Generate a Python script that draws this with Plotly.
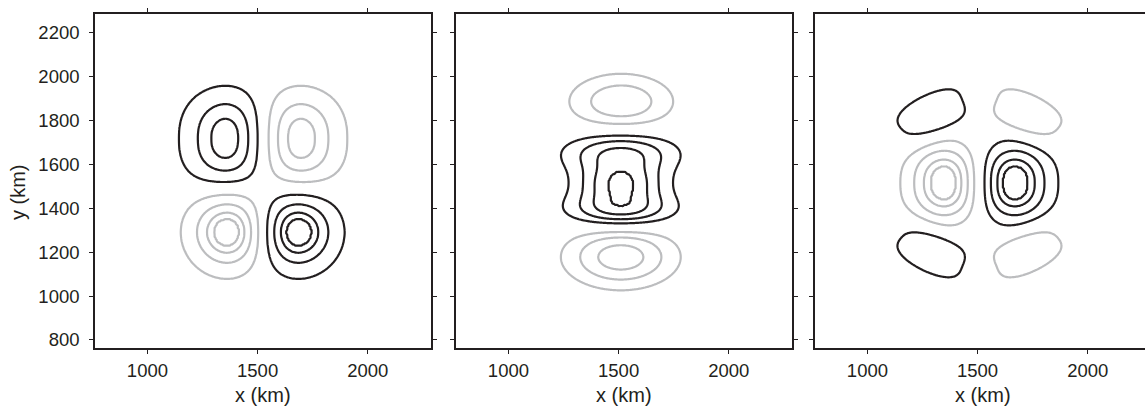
import numpy as np
import plotly.graph_objects as go

# ---------------- data ----------------
x_range = [762, 2287]
x_range_last = [762, 2260]          # third panel is cut at the right edge
y_range = [762, 2285]
x_ticks = [1000, 1500, 2000]
y_ticks = [800, 1000, 1200, 1400, 1600, 1800, 2000, 2200]

# Each panel: lobes given by centre x, centre y, amplitude, width along, width across,
# tilt (degrees) and edge sharpness of the across-profile (2 = Gaussian)
p1_cx = [1365, 1685, 1371, 1675]
p1_cy = [1715, 1715, 1292, 1292]
p1_amp = [0.84, -0.84, -1.0, 1.0]
p1_sx = [128, 128, 120, 120]
p1_sy = [155, 155, 118, 118]
p1_ang = [0, 0, 0, 0]
p1_q = [2.4, 2.4, 2.0, 2.0]
p1_levels = [0.185, 0.475, 0.70, 0.83]

p2_cx = [1510, 1510, 1510, 1512, 1510]
p2_cy = [1515, 1650, 1395, 1885, 1178]
p2_amp = [0.70, 0.65, 0.70, -0.57, -0.72]
p2_sx = [130, 175, 165, 163, 170]
p2_sy = [61, 68, 59, 88, 95]
p2_ang = [0, 0, 0, 0, 0]
p2_q = [2.0, 2.0, 2.0, 2.0, 2.0]
p2_levels = [0.2, 0.4, 0.6, 0.8]

p3_cx = [1358, 1658, 1297, 1720, 1297, 1720]
p3_cy = [1515, 1515, 1830, 1830, 1197, 1197]
p3_amp = [-0.94, 0.94, 0.43, -0.43, 0.43, -0.43]
p3_sx = [120, 120, 140, 140, 140, 140]
p3_sy = [128, 128, 80, 80, 80, 80]
p3_ang = [0, 0, 25, -25, -25, 25]
p3_q = [2.4, 2.4, 3.0, 3.0, 3.0, 3.0]
p3_levels = [0.207, 0.45, 0.656, 0.78]

x_title = "x (km)"
y_title = "y (km)"

# ---------------- styling ----------------
BLACK = "#231f20"
GRAY = "#bcbdbf"
FONT = "Liberation Sans"
TICK_SIZE = 18.5
TITLE_SIZE = 20
W, H = 1145, 407

grid_x = np.arange(950, 2101, 5.0)
grid_y = np.arange(950, 2101, 5.0)
GX, GY = np.meshgrid(grid_x, grid_y)


def build_field(cx, cy, amp, su, sv, ang, q):
    z = np.zeros_like(GX)
    for a, b, c, s1, s2, th, qq in zip(cx, cy, amp, su, sv, ang, q):
        t = np.radians(th)
        dx, dy = GX - a, GY - b
        u = dx * np.cos(t) + dy * np.sin(t)
        v = -dx * np.sin(t) + dy * np.cos(t)
        z += c * np.exp(-0.5 * ((u / s1) ** 2 + np.abs(v / s2) ** qq))
    return z


def level_index(z, levels):
    # monotone map so that the listed levels fall on 1, 2, 3, 4
    xp = [0.0] + list(levels) + [10.0]
    fp = list(range(len(levels) + 1)) + [len(levels) + 1]
    return np.round(np.sign(z) * np.interp(np.abs(z), xp, fp), 3)


panels = [
    (p1_cx, p1_cy, p1_amp, p1_sx, p1_sy, p1_ang, p1_q, p1_levels),
    (p2_cx, p2_cy, p2_amp, p2_sx, p2_sy, p2_ang, p2_q, p2_levels),
    (p3_cx, p3_cy, p3_amp, p3_sx, p3_sy, p3_ang, p3_q, p3_levels),
]

fig = go.Figure()
for i, (cx, cy, amp, sx, sy, ang, q, lev) in enumerate(panels):
    zt = level_index(build_field(cx, cy, amp, sx, sy, ang, q), lev)
    n = len(lev)
    xa = "x" if i == 0 else f"x{i + 1}"
    ya = "y" if i == 0 else f"y{i + 1}"
    for sign, color in ((1, BLACK), (-1, GRAY)):
        start, end = (1, n) if sign > 0 else (-n, -1)
        fig.add_trace(go.Contour(
            x=grid_x, y=grid_y, z=zt, xaxis=xa, yaxis=ya,
            contours=dict(start=start, end=end, size=1, coloring="none"),
            line=dict(color=color, width=2.2, smoothing=1),
            showscale=False, hoverinfo="skip",
        ))

# panel positions in pixels
px_left = [95, 456, 815]
px_width = 336
plot_top, plot_bottom = 14, 350
ydom = [(H - plot_bottom) / H, (H - plot_top) / H]

axis_common = dict(
    showline=True, linecolor=BLACK, linewidth=1.6,
    ticks="outside", ticklen=4, tickwidth=1, tickcolor=BLACK,
    showgrid=False, zeroline=False, fixedrange=True,
    tickfont=dict(family=FONT, size=TICK_SIZE, color=BLACK),
)

layout = dict(
    width=W, height=H, autosize=False,
    margin=dict(l=0, r=0, t=0, b=0),
    paper_bgcolor="white", plot_bgcolor="white",
    showlegend=False,
    font=dict(family=FONT, size=TICK_SIZE, color=BLACK),
)

annotations = []
for i in range(3):
    x0 = px_left[i] / W
    x1 = min((px_left[i] + px_width) / W, 1.0)
    suffix = "" if i == 0 else str(i + 1)
    xr = x_range_last if i == 2 else x_range
    layout["xaxis" + suffix] = dict(
        axis_common, domain=[x0, x1], range=xr, tickvals=x_ticks,
        anchor="y" + suffix, mirror="allticks", ticklabelstandoff=1,
    )
    layout["yaxis" + suffix] = dict(
        axis_common, domain=ydom, range=y_range, tickvals=y_ticks,
        anchor="x" + suffix, mirror=("allticks" if i < 2 else False),
        showticklabels=(i == 0), ticklabelstandoff=6,
    )
    annotations.append(dict(
        text=x_title, xref="paper", yref="paper",
        x=(px_left[i] + px_width / 2) / W, y=(H - 397) / H,
        xanchor="center", yanchor="middle", showarrow=False,
        font=dict(family=FONT, size=TITLE_SIZE, color=BLACK),
    ))

annotations.append(dict(
    text=y_title, xref="paper", yref="paper",
    x=18 / W, y=(H - 193) / H, xanchor="center", yanchor="middle",
    textangle=-90, showarrow=False,
    font=dict(family=FONT, size=TITLE_SIZE, color=BLACK),
))
layout["annotations"] = annotations

fig.update_layout(**layout)
fig.write_html("out.html")
